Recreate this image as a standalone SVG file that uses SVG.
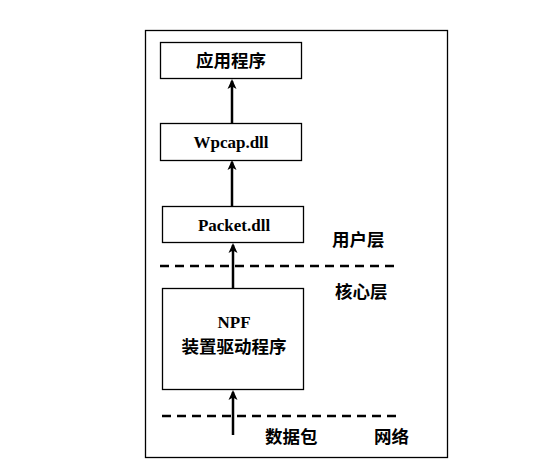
<svg xmlns="http://www.w3.org/2000/svg" width="548" height="475" viewBox="0 0 548 475">
<style>
.box{fill:#fff;stroke:#000;stroke-width:1.3}
.cjk{font-family:"Liberation Sans","Noto Sans CJK SC",sans-serif;font-weight:bold;font-size:17.5px;fill:#000}
.lat{font-family:"Liberation Serif","Noto Sans CJK SC",serif;font-weight:bold;font-size:17px;fill:#000}
.arr{stroke:#000;stroke-width:2.5;fill:none;marker-end:url(#ah)}
.dash{stroke:#000;stroke-width:2.5;stroke-dasharray:9 6;fill:none}
</style>
<defs>
<marker id="ah" markerWidth="12" markerHeight="10" refX="8" refY="5" orient="auto" markerUnits="userSpaceOnUse">
<path d="M0,0.5 L10,5 L0,9.5 L2.5,5 Z" fill="#000"/>
</marker>
</defs>
<rect x="145.5" y="30.5" width="302" height="427" fill="#fff" stroke="#000" stroke-width="1.3"/>
<g id="connectors">
<line class="dash" x1="160" y1="266" x2="398" y2="266"/>
<line class="dash" x1="162" y1="416" x2="400" y2="416"/>
<line class="arr" x1="232" y1="123" x2="232" y2="81"/>
<line class="arr" x1="232" y1="206" x2="232" y2="162"/>
<line class="arr" x1="233" y1="288" x2="233" y2="245"/>
<line class="arr" x1="233" y1="435" x2="233" y2="392"/>
</g>
<g id="app">
<rect class="box" x="160.5" y="42.5" width="141" height="36"/>
<text class="cjk" x="231" y="66.5" text-anchor="middle">应用程序</text>
</g>
<g id="wpcap">
<rect class="box" x="160.5" y="123.5" width="141" height="37"/>
<text class="lat" x="231" y="148" text-anchor="middle">Wpcap.dll</text>
</g>
<g id="packet">
<rect class="box" x="162.5" y="206.5" width="141" height="36"/>
<text class="lat" x="234" y="230.5" text-anchor="middle">Packet.dll</text>
</g>
<g id="npf">
<rect class="box" x="162.5" y="288.5" width="141" height="101"/>
<text class="lat" x="234" y="328" text-anchor="middle">NPF</text>
<text class="cjk" x="234" y="353" text-anchor="middle">装置驱动程序</text>
</g>
<g id="labels">
<text class="cjk" x="332" y="246">用户层</text>
<text class="cjk" x="335" y="298">核心层</text>
<text class="cjk" x="265" y="443">数据包</text>
<text class="cjk" x="374" y="443">网络</text>
</g>
</svg>
